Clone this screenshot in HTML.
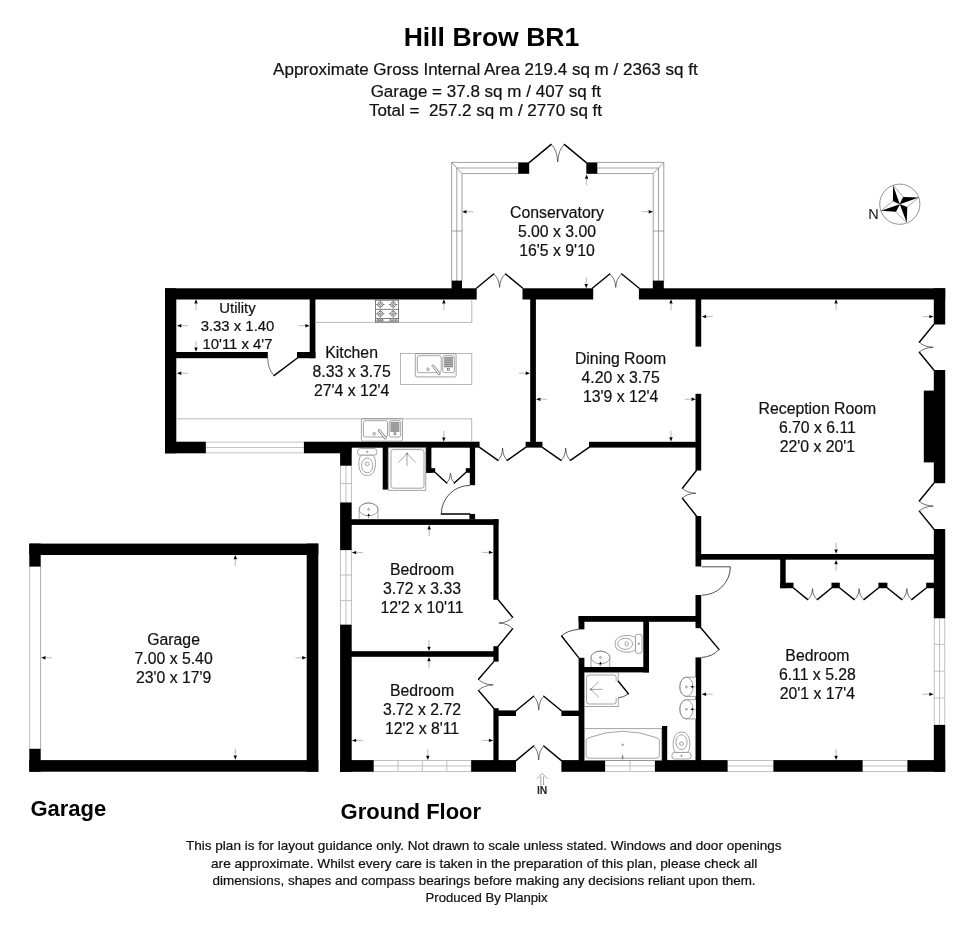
<!DOCTYPE html>
<html><head><meta charset="utf-8"><title>Hill Brow BR1</title>
<style>
html,body{margin:0;padding:0;background:#fff;}
body{width:980px;height:926px;overflow:hidden;font-family:"Liberation Sans",sans-serif;}
svg{display:block;font-family:"Liberation Sans",sans-serif;filter:grayscale(1);}
.w{fill:#000;}
.d{stroke:#000;stroke-width:1.4;fill:none;stroke-linecap:round;}
.a{stroke:#333;stroke-width:.7;fill:none;}
.g{stroke:#868686;stroke-width:.75;fill:none;}
.gf{stroke:#868686;stroke-width:.75;fill:#fff;}
.win{stroke:#a8a8a8;stroke-width:.7;fill:none;}
.winf{stroke:#a8a8a8;stroke-width:.7;fill:#fff;}
.ah{fill:#000;}
.at{stroke:#8a8a8a;stroke-width:.6;}
.ds{stroke:#222;stroke-width:.8;fill:none;}
.gk{stroke:#555;stroke-width:.6;fill:none;}
.gd{stroke:#999;stroke-width:.8;}
.hatch{fill:#bbb;stroke:none;}
.inn{stroke:#999;stroke-width:.9;fill:none;}
.hb{stroke:#3a3a3a;stroke-width:.65;fill:none;}
.cw{stroke:#7a7a7a;stroke-width:.7;fill:none;}
.wt{stroke:#a4a4a4;stroke-width:.8;fill:none;}
.ft{fill:#111;stroke:#111;stroke-width:.22;}
.t{fill:#111;text-anchor:middle;stroke:#111;stroke-width:.2;}
.b{fill:#000;font-weight:bold;}
.f{fill:#111;text-anchor:middle;}
</style></head><body>
<svg width="980" height="926" viewBox="0 0 980 926">
<rect x="0" y="0" width="980" height="926" fill="#fff"/>
<line class="cw" x1="451.60" y1="162.40" x2="518.50" y2="162.40"/>
<line class="cw" x1="597.00" y1="162.40" x2="663.80" y2="162.40"/>
<line class="cw" x1="451.60" y1="162.40" x2="451.60" y2="281.00"/>
<line class="cw" x1="663.80" y1="162.40" x2="663.80" y2="281.00"/>
<line class="cw" x1="456.80" y1="168.00" x2="518.50" y2="168.00"/>
<line class="cw" x1="597.00" y1="168.00" x2="658.50" y2="168.00"/>
<line class="cw" x1="456.80" y1="168.00" x2="456.80" y2="281.00"/>
<line class="cw" x1="658.50" y1="168.00" x2="658.50" y2="281.00"/>
<line class="cw" x1="462.00" y1="173.60" x2="518.50" y2="173.60"/>
<line class="cw" x1="597.00" y1="173.60" x2="653.20" y2="173.60"/>
<line class="cw" x1="462.00" y1="173.60" x2="462.00" y2="281.00"/>
<line class="cw" x1="653.20" y1="173.60" x2="653.20" y2="281.00"/>
<line class="cw" x1="451.60" y1="162.40" x2="462.00" y2="173.60"/>
<line class="cw" x1="663.80" y1="162.40" x2="653.20" y2="173.60"/>
<line class="cw" x1="451.60" y1="231.00" x2="462.00" y2="231.00"/>
<line class="cw" x1="653.20" y1="231.00" x2="663.80" y2="231.00"/>
<rect class="winf" x="205.80" y="442.10" width="98.20" height="10.80"/>
<line class="win" x1="205.80" y1="447.50" x2="304.00" y2="447.50"/>
<rect class="winf" x="340.40" y="465.50" width="11.10" height="37.10"/>
<line class="win" x1="345.95" y1="465.50" x2="345.95" y2="502.60"/>
<line class="win" x1="340.40" y1="483.50" x2="351.50" y2="483.50"/>
<rect class="winf" x="340.40" y="550.00" width="11.10" height="74.80"/>
<line class="win" x1="345.95" y1="550.00" x2="345.95" y2="624.80"/>
<line class="win" x1="340.40" y1="575.00" x2="351.50" y2="575.00"/>
<line class="win" x1="340.40" y1="600.60" x2="351.50" y2="600.60"/>
<rect class="winf" x="373.60" y="760.40" width="97.60" height="11.10"/>
<line class="win" x1="373.60" y1="765.95" x2="471.20" y2="765.95"/>
<line class="win" x1="398.00" y1="760.40" x2="398.00" y2="771.50"/>
<line class="win" x1="422.40" y1="760.40" x2="422.40" y2="771.50"/>
<line class="win" x1="446.80" y1="760.40" x2="446.80" y2="771.50"/>
<rect class="winf" x="605.00" y="760.40" width="50.00" height="11.10"/>
<line class="win" x1="605.00" y1="765.95" x2="655.00" y2="765.95"/>
<line class="win" x1="630.00" y1="760.40" x2="630.00" y2="771.50"/>
<rect class="winf" x="727.50" y="760.40" width="46.00" height="11.10"/>
<line class="win" x1="727.50" y1="765.95" x2="773.50" y2="765.95"/>
<rect class="winf" x="862.50" y="760.40" width="45.00" height="11.10"/>
<line class="win" x1="862.50" y1="765.95" x2="907.50" y2="765.95"/>
<rect class="winf" x="934.20" y="618.00" width="10.60" height="107.00"/>
<line class="win" x1="939.50" y1="618.00" x2="939.50" y2="725.00"/>
<line class="win" x1="934.20" y1="644.40" x2="944.80" y2="644.40"/>
<line class="win" x1="934.20" y1="671.20" x2="944.80" y2="671.20"/>
<line class="win" x1="934.20" y1="698.00" x2="944.80" y2="698.00"/>
<line class="win" x1="29.60" y1="566.00" x2="29.60" y2="749.00"/>
<line class="gd" x1="40.60" y1="566.00" x2="40.60" y2="749.00"/>
<rect class="w" x="165.00" y="288.30" width="311.70" height="11.20"/>
<rect class="w" x="165.00" y="288.30" width="11.30" height="165.00"/>
<rect class="w" x="165.00" y="441.70" width="40.80" height="11.60"/>
<rect class="w" x="304.00" y="441.70" width="47.30" height="11.60"/>
<rect class="w" x="351.00" y="441.70" width="128.60" height="6.00"/>
<rect class="w" x="175.50" y="352.00" width="92.30" height="6.20"/>
<rect class="w" x="309.70" y="298.00" width="5.70" height="60.20"/>
<rect class="w" x="297.00" y="352.00" width="18.40" height="6.20"/>
<rect class="w" x="451.60" y="280.60" width="10.40" height="8.40"/>
<rect class="w" x="652.80" y="280.60" width="11.00" height="8.40"/>
<rect class="w" x="518.20" y="162.40" width="11.00" height="11.40"/>
<rect class="w" x="586.30" y="162.40" width="11.00" height="11.40"/>
<rect class="w" x="522.50" y="288.30" width="70.70" height="11.20"/>
<rect class="w" x="638.90" y="288.30" width="306.30" height="11.20"/>
<rect class="w" x="530.20" y="298.00" width="5.70" height="146.00"/>
<rect class="w" x="525.60" y="441.80" width="16.80" height="5.80"/>
<rect class="w" x="589.00" y="441.80" width="108.00" height="5.80"/>
<rect class="w" x="695.50" y="298.00" width="5.70" height="48.60"/>
<rect class="w" x="695.50" y="393.80" width="5.70" height="76.70"/>
<rect class="w" x="695.50" y="516.00" width="5.70" height="50.50"/>
<rect class="w" x="695.50" y="595.00" width="5.70" height="33.20"/>
<rect class="w" x="695.50" y="657.40" width="5.70" height="103.60"/>
<rect class="w" x="933.80" y="288.30" width="11.40" height="36.20"/>
<rect class="w" x="933.80" y="370.00" width="11.40" height="113.20"/>
<rect class="w" x="933.80" y="529.00" width="11.40" height="89.20"/>
<rect class="w" x="933.80" y="725.00" width="11.40" height="46.80"/>
<rect class="w" x="923.80" y="390.60" width="11.20" height="71.80"/>
<rect class="w" x="701.00" y="554.00" width="233.50" height="5.70"/>
<rect class="w" x="780.20" y="559.00" width="5.50" height="29.20"/>
<rect class="w" x="780.20" y="582.70" width="13.30" height="5.50"/>
<rect class="w" x="831.50" y="582.70" width="8.30" height="5.50"/>
<rect class="w" x="878.40" y="582.70" width="9.00" height="5.50"/>
<rect class="w" x="926.20" y="582.70" width="8.30" height="5.50"/>
<rect class="w" x="340.10" y="760.10" width="33.50" height="11.70"/>
<rect class="w" x="471.20" y="760.10" width="44.80" height="11.70"/>
<rect class="w" x="561.40" y="760.10" width="43.60" height="11.70"/>
<rect class="w" x="655.00" y="760.10" width="72.50" height="11.70"/>
<rect class="w" x="773.50" y="760.10" width="89.00" height="11.70"/>
<rect class="w" x="907.50" y="760.10" width="37.70" height="11.70"/>
<rect class="w" x="340.10" y="442.00" width="11.60" height="23.60"/>
<rect class="w" x="340.10" y="502.60" width="11.60" height="47.40"/>
<rect class="w" x="340.10" y="624.80" width="11.60" height="147.00"/>
<rect class="w" x="382.70" y="447.00" width="5.20" height="42.60"/>
<rect class="w" x="426.00" y="447.00" width="5.40" height="25.80"/>
<rect class="w" x="426.00" y="468.20" width="9.20" height="4.60"/>
<rect class="w" x="469.80" y="447.00" width="5.30" height="38.20"/>
<rect class="w" x="465.80" y="468.20" width="4.20" height="4.60"/>
<rect class="w" x="469.40" y="514.00" width="5.70" height="5.50"/>
<rect class="w" x="351.00" y="519.20" width="147.40" height="5.70"/>
<rect class="w" x="493.40" y="519.20" width="5.20" height="80.60"/>
<rect class="w" x="351.00" y="651.20" width="147.00" height="5.60"/>
<rect class="w" x="493.40" y="646.20" width="5.20" height="15.40"/>
<rect class="w" x="493.40" y="708.20" width="5.20" height="52.80"/>
<rect class="w" x="498.00" y="710.40" width="18.00" height="5.60"/>
<rect class="w" x="561.40" y="710.60" width="17.60" height="5.40"/>
<rect class="w" x="578.60" y="616.00" width="118.40" height="5.80"/>
<rect class="w" x="578.60" y="616.00" width="5.80" height="13.40"/>
<rect class="w" x="578.60" y="657.80" width="5.80" height="103.20"/>
<rect class="w" x="643.30" y="621.00" width="5.70" height="51.40"/>
<rect class="w" x="584.00" y="667.00" width="65.00" height="5.40"/>
<rect class="w" x="662.00" y="726.00" width="5.20" height="35.00"/>
<rect class="w" x="29.30" y="543.60" width="289.00" height="11.40"/>
<rect class="w" x="306.70" y="543.60" width="11.60" height="228.10"/>
<rect class="w" x="29.30" y="760.10" width="289.00" height="11.60"/>
<rect class="w" x="29.30" y="543.60" width="11.40" height="23.00"/>
<rect class="w" x="29.30" y="748.80" width="11.40" height="22.90"/>
<line class="d" x1="529.20" y1="162.60" x2="551.18" y2="144.40"/>
<line class="d" x1="586.30" y1="162.60" x2="564.32" y2="144.40"/>
<path class="a" d="M551.18 144.40Q557.22 149.86 557.75 162.00"/>
<path class="a" d="M564.32 144.40Q558.28 149.86 557.75 162.00"/>
<line class="d" x1="476.70" y1="288.00" x2="493.65" y2="274.00"/>
<line class="d" x1="522.50" y1="288.00" x2="505.55" y2="274.00"/>
<path class="a" d="M493.65 274.00Q499.12 278.20 499.60 287.40"/>
<path class="a" d="M505.55 274.00Q500.08 278.20 499.60 287.40"/>
<line class="d" x1="592.60" y1="288.00" x2="609.73" y2="274.00"/>
<line class="d" x1="638.90" y1="288.00" x2="621.77" y2="274.00"/>
<path class="a" d="M609.73 274.00Q615.27 278.20 615.75 287.40"/>
<path class="a" d="M621.77 274.00Q616.23 278.20 615.75 287.40"/>
<line class="d" x1="479.60" y1="447.40" x2="498.00" y2="460.40"/>
<line class="d" x1="525.60" y1="447.40" x2="507.20" y2="460.40"/>
<path class="a" d="M498.00 460.40Q502.23 456.50 502.60 448.00"/>
<path class="a" d="M507.20 460.40Q502.97 456.50 502.60 448.00"/>
<line class="d" x1="542.40" y1="447.40" x2="561.04" y2="460.40"/>
<line class="d" x1="589.00" y1="447.40" x2="570.36" y2="460.40"/>
<path class="a" d="M561.04 460.40Q565.33 456.50 565.70 448.00"/>
<path class="a" d="M570.36 460.40Q566.07 456.50 565.70 448.00"/>
<line class="d" x1="933.80" y1="324.50" x2="919.30" y2="342.25"/>
<line class="d" x1="933.80" y1="370.00" x2="919.30" y2="352.25"/>
<path class="a" d="M919.30 342.25Q923.65 346.85 933.20 347.25"/>
<path class="a" d="M919.30 352.25Q923.65 347.65 933.20 347.25"/>
<line class="d" x1="933.80" y1="483.20" x2="919.30" y2="501.06"/>
<line class="d" x1="933.80" y1="529.00" x2="919.30" y2="511.14"/>
<path class="a" d="M919.30 501.06Q923.65 505.70 933.20 506.10"/>
<path class="a" d="M919.30 511.14Q923.65 506.50 933.20 506.10"/>
<line class="d" x1="696.40" y1="470.50" x2="682.40" y2="488.25"/>
<line class="d" x1="696.40" y1="516.00" x2="682.40" y2="498.25"/>
<path class="a" d="M682.40 488.25Q686.60 492.85 695.80 493.25"/>
<path class="a" d="M682.40 498.25Q686.60 493.65 695.80 493.25"/>
<line class="d" x1="498.20" y1="599.80" x2="512.60" y2="617.25"/>
<line class="d" x1="498.20" y1="646.20" x2="512.60" y2="628.75"/>
<path class="a" d="M512.60 617.25Q508.28 622.54 498.80 623.00"/>
<path class="a" d="M512.60 628.75Q508.28 623.46 498.80 623.00"/>
<line class="d" x1="493.80" y1="661.60" x2="478.50" y2="679.31"/>
<line class="d" x1="493.80" y1="708.20" x2="478.50" y2="690.49"/>
<path class="a" d="M478.50 679.31Q483.09 684.45 493.20 684.90"/>
<path class="a" d="M478.50 690.49Q483.09 685.35 493.20 684.90"/>
<line class="d" x1="516.00" y1="760.60" x2="533.62" y2="746.00"/>
<line class="d" x1="561.40" y1="760.60" x2="543.78" y2="746.00"/>
<path class="a" d="M533.62 746.00Q538.29 750.38 538.70 760.00"/>
<path class="a" d="M543.78 746.00Q539.11 750.38 538.70 760.00"/>
<line class="d" x1="516.00" y1="710.80" x2="533.62" y2="696.20"/>
<line class="d" x1="561.40" y1="710.80" x2="543.78" y2="696.20"/>
<path class="a" d="M533.62 696.20Q538.29 700.58 538.70 710.20"/>
<path class="a" d="M543.78 696.20Q539.11 700.58 538.70 710.20"/>
<line class="d" x1="435.20" y1="472.60" x2="446.68" y2="483.00"/>
<line class="d" x1="465.80" y1="472.60" x2="454.32" y2="483.00"/>
<path class="a" d="M446.68 483.00Q450.19 479.88 450.50 473.20"/>
<path class="a" d="M454.32 483.00Q450.81 479.88 450.50 473.20"/>
<line class="d" x1="793.50" y1="588.00" x2="807.75" y2="599.60"/>
<line class="d" x1="831.50" y1="588.00" x2="817.25" y2="599.60"/>
<path class="a" d="M807.75 599.60Q812.12 596.12 812.50 588.60"/>
<path class="a" d="M817.25 599.60Q812.88 596.12 812.50 588.60"/>
<line class="d" x1="839.80" y1="588.00" x2="854.27" y2="599.60"/>
<line class="d" x1="878.40" y1="588.00" x2="863.92" y2="599.60"/>
<path class="a" d="M854.27 599.60Q858.71 596.12 859.10 588.60"/>
<path class="a" d="M863.92 599.60Q859.49 596.12 859.10 588.60"/>
<line class="d" x1="887.40" y1="588.00" x2="901.95" y2="599.60"/>
<line class="d" x1="926.20" y1="588.00" x2="911.65" y2="599.60"/>
<path class="a" d="M901.95 599.60Q906.41 596.12 906.80 588.60"/>
<path class="a" d="M911.65 599.60Q907.19 596.12 906.80 588.60"/>
<line class="d" x1="297.40" y1="358.00" x2="274.00" y2="375.60"/>
<path class="a" d="M267.8 358.2Q267.6 368.6 274 375.6"/>
<line class="d" x1="441.30" y1="514.00" x2="469.80" y2="514.00"/>
<path class="ds" d="M441.3 514A28.6 28.6 0 0 1 470 485.4"/>
<line class="ds" x1="701.60" y1="566.80" x2="730.40" y2="566.80"/>
<path class="ds" d="M730.4 566.8A28.6 28.6 0 0 1 701.8 595.2"/>
<line class="d" x1="701.20" y1="628.20" x2="719.00" y2="649.40"/>
<path class="ds" d="M719 649.4Q712.4 656.8 701.4 657.5"/>
<line class="d" x1="578.60" y1="657.60" x2="561.60" y2="636.00"/>
<path class="ds" d="M561.6 636Q567.6 630.2 578.6 629.4"/>
<path class="wt" d="M315.4 322.4H471.8V299"/>
<path class="wt" d="M176.3 418.8H471.7V442"/>
<rect class="wt" x="400.40" y="353.40" width="71.40" height="31.10"/>
<rect class="hb" x="375.50" y="300.20" width="22.90" height="21.80"/>
<line class="hb" x1="375.50" y1="309.36" x2="398.40" y2="309.36"/>
<line class="hb" x1="375.50" y1="318.51" x2="398.40" y2="318.51"/>
<circle class="hb" cx="380.31" cy="304.56" r="2.5"/>
<circle class="hb" cx="380.31" cy="304.56" r="1"/>
<path class="hb" d="M376.11 304.56h1.7M382.81 304.56h1.7M380.31 300.66v1.4M380.31 307.06v1.4"/>
<circle class="hb" cx="380.31" cy="313.72" r="2.5"/>
<circle class="hb" cx="380.31" cy="313.72" r="1"/>
<path class="hb" d="M376.11 313.72h1.7M382.81 313.72h1.7M380.31 309.82v1.4M380.31 316.22v1.4"/>
<circle class="hb" cx="393.13" cy="304.56" r="2.5"/>
<circle class="hb" cx="393.13" cy="304.56" r="1"/>
<path class="hb" d="M388.93 304.56h1.7M395.63 304.56h1.7M393.13 300.66v1.4M393.13 307.06v1.4"/>
<circle class="hb" cx="393.13" cy="313.72" r="2.5"/>
<circle class="hb" cx="393.13" cy="313.72" r="1"/>
<path class="hb" d="M388.93 313.72h1.7M395.63 313.72h1.7M393.13 309.82v1.4M393.13 316.22v1.4"/>
<circle class="hb" cx="377.79" cy="320.37" r="0.9"/>
<circle class="hb" cx="380.08" cy="320.37" r="0.9"/>
<circle class="hb" cx="382.37" cy="320.37" r="0.9"/>
<circle class="hb" cx="390.61" cy="320.37" r="0.9"/>
<circle class="hb" cx="393.36" cy="320.37" r="0.9"/>
<circle class="hb" cx="396.11" cy="320.37" r="0.9"/>
<rect class="g" x="415.30" y="353.70" width="40.80" height="23.20" rx="1.6"/>
<rect class="g" x="417.30" y="355.70" width="23.91" height="17.00" rx="2"/>
<rect class="g" x="442.84" y="355.70" width="11.46" height="17.00" rx="2"/>
<rect class="hatch" x="444.14" y="356.90" width="8.86" height="10.54"/>
<line class="gk" x1="444.14" y1="357.95" x2="453.00" y2="357.95"/>
<line class="gk" x1="444.14" y1="360.06" x2="453.00" y2="360.06"/>
<line class="gk" x1="444.14" y1="362.17" x2="453.00" y2="362.17"/>
<line class="gk" x1="444.14" y1="364.28" x2="453.00" y2="364.28"/>
<line class="gk" x1="444.14" y1="366.39" x2="453.00" y2="366.39"/>
<rect class="gk" x="447.67" y="368.28" width="1.8" height="2"/>
<circle class="gk" cx="427.95" cy="369.24" r="1.3"/>
<line x1="432.84" y1="365.76" x2="439.17" y2="373.65" stroke="#777" stroke-width="2.6" stroke-linecap="round"/>
<line x1="432.84" y1="365.76" x2="439.17" y2="373.65" stroke="#fff" stroke-width="1.2" stroke-linecap="round"/>
<rect class="g" x="361.40" y="418.70" width="41.10" height="22.50" rx="1.6"/>
<rect class="g" x="363.40" y="420.70" width="24.10" height="16.30" rx="2"/>
<rect class="g" x="389.14" y="420.70" width="11.56" height="16.30" rx="2"/>
<rect class="hatch" x="390.44" y="421.90" width="8.96" height="10.11"/>
<line class="gk" x1="390.44" y1="422.91" x2="399.40" y2="422.91"/>
<line class="gk" x1="390.44" y1="424.93" x2="399.40" y2="424.93"/>
<line class="gk" x1="390.44" y1="426.95" x2="399.40" y2="426.95"/>
<line class="gk" x1="390.44" y1="428.97" x2="399.40" y2="428.97"/>
<line class="gk" x1="390.44" y1="431.00" x2="399.40" y2="431.00"/>
<rect class="gk" x="394.02" y="432.76" width="1.8" height="2"/>
<circle class="gk" cx="374.14" cy="433.77" r="1.3"/>
<line x1="379.07" y1="430.40" x2="385.44" y2="438.05" stroke="#777" stroke-width="2.6" stroke-linecap="round"/>
<line x1="379.07" y1="430.40" x2="385.44" y2="438.05" stroke="#fff" stroke-width="1.2" stroke-linecap="round"/>
<g transform="translate(367.20 465.20) rotate(0)">
<rect class="gf" x="-9.6" y="-16.6" width="19.2" height="6.6" rx="2.6"/>
<circle class="gk" cx="0" cy="-13.4" r="0.7"/>
<path class="gf" d="M-6.2 -10C-9.4 -6 -9 5 -5 8.6C-2.6 10.8 2.6 10.8 5 8.6C9 5 9.4 -6 6.2 -10Z"/>
<ellipse class="g" cx="0" cy="0.2" rx="5.6" ry="7.4"/>
<ellipse class="g" cx="0" cy="-1.3" rx="2.1" ry="1.6"/>
</g>
<g transform="translate(625.40 643.80) rotate(90)">
<rect class="gf" x="-9.6" y="-16.6" width="19.2" height="6.6" rx="2.6"/>
<circle class="gk" cx="0" cy="-13.4" r="0.7"/>
<path class="gf" d="M-6.2 -10C-9.4 -6 -9 5 -5 8.6C-2.6 10.8 2.6 10.8 5 8.6C9 5 9.4 -6 6.2 -10Z"/>
<ellipse class="g" cx="0" cy="0.2" rx="5.6" ry="7.4"/>
<ellipse class="g" cx="0" cy="-1.3" rx="2.1" ry="1.6"/>
</g>
<g transform="translate(681.50 742.40) rotate(180)">
<rect class="gf" x="-9.6" y="-16.6" width="19.2" height="6.6" rx="2.6"/>
<circle class="gk" cx="0" cy="-13.4" r="0.7"/>
<path class="gf" d="M-6.2 -10C-9.4 -6 -9 5 -5 8.6C-2.6 10.8 2.6 10.8 5 8.6C9 5 9.4 -6 6.2 -10Z"/>
<ellipse class="g" cx="0" cy="0.2" rx="5.6" ry="7.4"/>
<ellipse class="g" cx="0" cy="-1.3" rx="2.1" ry="1.6"/>
</g>
<g transform="translate(368.60 518.90) rotate(0)">
<path class="gf" d="M-9.4 0V-9.5A9.4 6.4 0 0 1 9.4 -9.5V0"/>
<ellipse class="g" cx="0" cy="-9.5" rx="9.4" ry="6.4"/>
<circle class="gk" cx="0" cy="-9.5" r="0.9"/>
<path class="ah" d="M0 -5.4l-1.3 2.6h2.6z"/>
<path class="gk" d="M0 -3V-0.6"/>
</g>
<g transform="translate(600.40 667.00) rotate(0)">
<path class="gf" d="M-9.4 0V-9.5A9.4 6.4 0 0 1 9.4 -9.5V0"/>
<ellipse class="g" cx="0" cy="-9.5" rx="9.4" ry="6.4"/>
<circle class="gk" cx="0" cy="-9.5" r="0.9"/>
<path class="ah" d="M0 -5.4l-1.3 2.6h2.6z"/>
<path class="gk" d="M0 -3V-0.6"/>
</g>
<g transform="translate(695.80 686.80) rotate(-90)">
<path class="gf" d="M-9.6 0V-9.4A9.6 6.6 0 0 1 9.6 -9.4V0"/>
<ellipse class="g" cx="0" cy="-9.4" rx="9.6" ry="6.6"/>
<circle class="gk" cx="0" cy="-9.4" r="0.9"/>
<path class="ah" d="M0 -5.4l-1.3 2.6h2.6z"/>
<path class="gk" d="M0 -3V-0.6"/>
</g>
<g transform="translate(695.80 709.30) rotate(-90)">
<path class="gf" d="M-9.6 0V-9.4A9.6 6.6 0 0 1 9.6 -9.4V0"/>
<ellipse class="g" cx="0" cy="-9.4" rx="9.6" ry="6.6"/>
<circle class="gk" cx="0" cy="-9.4" r="0.9"/>
<path class="ah" d="M0 -5.4l-1.3 2.6h2.6z"/>
<path class="gk" d="M0 -3V-0.6"/>
</g>
<rect class="g" x="388.70" y="447.80" width="37.10" height="42.50"/>
<rect class="g" x="391" y="449.6" width="33" height="38.6" rx="2.4"/>
<path class="g" d="M398.4 462.6L407 453.6L415.8 462.6M407 453.6V466"/>
<circle class="gk" cx="407" cy="453.6" r="0.7"/>
<path class="g" d="M584.4 672.6H618.3V681.3M618.3 697.8V706.5H584.4"/>
<path class="g" d="M616.2 681.3V677.4Q616.2 675 613.8 675H589Q586.6 675 586.6 677.4V701.6Q586.6 704 589 704H613.8Q616.2 704 616.2 701.6V698"/>
<line class="d" x1="618.30" y1="681.30" x2="628.40" y2="693.70"/>
<path class="ds" d="M628.4 693.7Q624 697.4 618.3 697.8"/>
<path class="g" d="M598.8 681.6L590.8 689.4L598.8 697.2M590.8 689.4H602.6"/>
<circle class="gk" cx="590.8" cy="689.4" r="0.7"/>
<rect class="g" x="584.40" y="728.70" width="77.40" height="31.70"/>
<path class="g" d="M586.2 740.6Q586.2 738.4 588.6 737.8Q622.6 724.8 657 737.8Q659.4 738.4 659.4 740.6V755.6Q659.4 758.2 656.8 758.2H588.8Q586.2 758.2 586.2 755.6Z"/>
<circle class="gk" cx="622.6" cy="744.8" r="0.8"/>
<path class="gk" d="M622.6 759.6V754.6M621.4 757H623.8"/>
<circle cx="899.8" cy="204.2" r="20.1" fill="none" stroke="#777" stroke-width=".8"/>
<path d="M893.1 185.2L892.9 201.0L899.8 204.2Z" fill="#000"/>
<path d="M893.1 185.2L903.3 197.0L899.8 204.2" fill="none" stroke="#555" stroke-width=".5"/>
<path d="M918.8 197.4L903.3 197.0L899.8 204.2Z" fill="#000"/>
<path d="M918.8 197.4L907.3 207.2L899.8 204.2" fill="none" stroke="#555" stroke-width=".5"/>
<path d="M906.7 222.8L907.3 207.2L899.8 204.2Z" fill="#000"/>
<path d="M906.7 222.8L895.9 211.7L899.8 204.2" fill="none" stroke="#555" stroke-width=".5"/>
<path d="M881.1 210.7L895.9 211.7L899.8 204.2Z" fill="#000"/>
<path d="M881.1 210.7L892.9 201.0L899.8 204.2" fill="none" stroke="#555" stroke-width=".5"/>
<text x="873.6" y="218.8" font-size="14.5" fill="#111" text-anchor="middle">N</text>
<path class="inn" d="M536.8 778.8L542.2 773.4L547.6 778.8"/>
<path class="inn" d="M540.8 776.4V785M543.6 776.4V785"/>
<text x="542.2" y="793.8" font-size="10.4" font-weight="bold" fill="#222" text-anchor="middle">IN</text>
<path class="ah" d="M586.60 174.40l-1.7 4.3h3.4z"/>
<line class="at" x1="586.60" y1="178.70" x2="586.60" y2="185.40"/>
<path class="ah" d="M586.20 288.20l-1.7 -4.3h3.4z"/>
<line class="at" x1="586.20" y1="283.90" x2="586.20" y2="277.20"/>
<path class="ah" d="M462.20 211.70l4.3 -1.7v3.4z"/>
<line class="at" x1="466.50" y1="211.70" x2="473.20" y2="211.70"/>
<path class="ah" d="M653.00 211.70l-4.3 -1.7v3.4z"/>
<line class="at" x1="648.70" y1="211.70" x2="642.00" y2="211.70"/>
<path class="ah" d="M443.90 299.20l-1.7 4.3h3.4z"/>
<line class="at" x1="443.90" y1="303.50" x2="443.90" y2="310.20"/>
<path class="ah" d="M443.80 441.80l-1.7 -4.3h3.4z"/>
<line class="at" x1="443.80" y1="437.50" x2="443.80" y2="430.80"/>
<path class="ah" d="M177.00 373.20l4.3 -1.7v3.4z"/>
<line class="at" x1="181.30" y1="373.20" x2="188.00" y2="373.20"/>
<path class="ah" d="M530.00 373.20l-4.3 -1.7v3.4z"/>
<line class="at" x1="525.70" y1="373.20" x2="519.00" y2="373.20"/>
<path class="ah" d="M196.00 299.20l-1.7 4.3h3.4z"/>
<line class="at" x1="196.00" y1="303.50" x2="196.00" y2="310.20"/>
<path class="ah" d="M196.00 351.80l-1.7 -4.3h3.4z"/>
<line class="at" x1="196.00" y1="347.50" x2="196.00" y2="340.80"/>
<path class="ah" d="M177.00 325.70l4.3 -1.7v3.4z"/>
<line class="at" x1="181.30" y1="325.70" x2="188.00" y2="325.70"/>
<path class="ah" d="M309.60 325.70l-4.3 -1.7v3.4z"/>
<line class="at" x1="305.30" y1="325.70" x2="298.60" y2="325.70"/>
<path class="ah" d="M671.00 299.20l-1.7 4.3h3.4z"/>
<line class="at" x1="671.00" y1="303.50" x2="671.00" y2="310.20"/>
<path class="ah" d="M671.00 441.60l-1.7 -4.3h3.4z"/>
<line class="at" x1="671.00" y1="437.30" x2="671.00" y2="430.60"/>
<path class="ah" d="M536.10 399.20l4.3 -1.7v3.4z"/>
<line class="at" x1="540.40" y1="399.20" x2="547.10" y2="399.20"/>
<path class="ah" d="M695.80 399.20l-4.3 -1.7v3.4z"/>
<line class="at" x1="691.50" y1="399.20" x2="684.80" y2="399.20"/>
<path class="ah" d="M836.10 299.20l-1.7 4.3h3.4z"/>
<line class="at" x1="836.10" y1="303.50" x2="836.10" y2="310.20"/>
<path class="ah" d="M836.10 553.80l-1.7 -4.3h3.4z"/>
<line class="at" x1="836.10" y1="549.50" x2="836.10" y2="542.80"/>
<path class="ah" d="M701.80 316.60l4.3 -1.7v3.4z"/>
<line class="at" x1="706.10" y1="316.60" x2="712.80" y2="316.60"/>
<path class="ah" d="M933.60 316.60l-4.3 -1.7v3.4z"/>
<line class="at" x1="929.30" y1="316.60" x2="922.60" y2="316.60"/>
<path class="ah" d="M836.10 559.90l-1.7 4.3h3.4z"/>
<line class="at" x1="836.10" y1="564.20" x2="836.10" y2="570.90"/>
<path class="ah" d="M836.10 760.00l-1.7 -4.3h3.4z"/>
<line class="at" x1="836.10" y1="755.70" x2="836.10" y2="749.00"/>
<path class="ah" d="M701.80 694.20l4.3 -1.7v3.4z"/>
<line class="at" x1="706.10" y1="694.20" x2="712.80" y2="694.20"/>
<path class="ah" d="M933.60 694.20l-4.3 -1.7v3.4z"/>
<line class="at" x1="929.30" y1="694.20" x2="922.60" y2="694.20"/>
<path class="ah" d="M429.20 525.10l-1.7 4.3h3.4z"/>
<line class="at" x1="429.20" y1="529.40" x2="429.20" y2="536.10"/>
<path class="ah" d="M429.00 651.00l-1.7 -4.3h3.4z"/>
<line class="at" x1="429.00" y1="646.70" x2="429.00" y2="640.00"/>
<path class="ah" d="M351.90 552.60l4.3 -1.7v3.4z"/>
<line class="at" x1="356.20" y1="552.60" x2="362.90" y2="552.60"/>
<path class="ah" d="M493.20 552.40l-4.3 -1.7v3.4z"/>
<line class="at" x1="488.90" y1="552.40" x2="482.20" y2="552.40"/>
<path class="ah" d="M429.00 657.00l-1.7 4.3h3.4z"/>
<line class="at" x1="429.00" y1="661.30" x2="429.00" y2="668.00"/>
<path class="ah" d="M427.80 760.00l-1.7 -4.3h3.4z"/>
<line class="at" x1="427.80" y1="755.70" x2="427.80" y2="749.00"/>
<path class="ah" d="M351.90 740.40l4.3 -1.7v3.4z"/>
<line class="at" x1="356.20" y1="740.40" x2="362.90" y2="740.40"/>
<path class="ah" d="M493.20 740.40l-4.3 -1.7v3.4z"/>
<line class="at" x1="488.90" y1="740.40" x2="482.20" y2="740.40"/>
<path class="ah" d="M235.30 555.00l-1.7 4.3h3.4z"/>
<line class="at" x1="235.30" y1="559.30" x2="235.30" y2="566.00"/>
<path class="ah" d="M235.30 759.80l-1.7 -4.3h3.4z"/>
<line class="at" x1="235.30" y1="755.50" x2="235.30" y2="748.80"/>
<path class="ah" d="M41.20 657.80l4.3 -1.7v3.4z"/>
<line class="at" x1="45.50" y1="657.80" x2="52.20" y2="657.80"/>
<path class="ah" d="M306.50 657.80l-4.3 -1.7v3.4z"/>
<line class="at" x1="302.20" y1="657.80" x2="295.50" y2="657.80"/>
<text class="t" x="557.00" y="217.76" font-size="15.8">Conservatory</text>
<text class="t" x="557.00" y="236.86" font-size="15.8">5.00 x 3.00</text>
<text class="t" x="557.00" y="255.96" font-size="15.8">16'5 x 9'10</text>
<text class="t" x="237.50" y="312.93" font-size="14.9">Utility</text>
<text class="t" x="237.50" y="330.73" font-size="14.9">3.33 x 1.40</text>
<text class="t" x="237.50" y="348.53" font-size="14.9">10'11 x 4'7</text>
<text class="t" x="351.60" y="358.26" font-size="15.8">Kitchen</text>
<text class="t" x="351.60" y="377.21" font-size="15.8">8.33 x 3.75</text>
<text class="t" x="351.60" y="396.16" font-size="15.8">27'4 x 12'4</text>
<text class="t" x="620.60" y="364.26" font-size="15.8">Dining Room</text>
<text class="t" x="620.60" y="383.21" font-size="15.8">4.20 x 3.75</text>
<text class="t" x="620.60" y="402.16" font-size="15.8">13'9 x 12'4</text>
<text class="t" x="817.40" y="413.66" font-size="15.8">Reception Room</text>
<text class="t" x="817.40" y="432.61" font-size="15.8">6.70 x 6.11</text>
<text class="t" x="817.40" y="451.56" font-size="15.8">22'0 x 20'1</text>
<text class="t" x="817.40" y="660.66" font-size="15.8">Bedroom</text>
<text class="t" x="817.40" y="679.61" font-size="15.8">6.11 x 5.28</text>
<text class="t" x="817.40" y="698.56" font-size="15.8">20'1 x 17'4</text>
<text class="t" x="422.00" y="574.86" font-size="15.8">Bedroom</text>
<text class="t" x="422.00" y="593.81" font-size="15.8">3.72 x 3.33</text>
<text class="t" x="422.00" y="612.76" font-size="15.8">12'2 x 10'11</text>
<text class="t" x="422.00" y="695.66" font-size="15.8">Bedroom</text>
<text class="t" x="422.00" y="714.61" font-size="15.8">3.72 x 2.72</text>
<text class="t" x="422.00" y="733.56" font-size="15.8">12'2 x 8'11</text>
<text class="t" x="173.60" y="644.66" font-size="15.8">Garage</text>
<text class="t" x="173.60" y="663.61" font-size="15.8">7.00 x 5.40</text>
<text class="t" x="173.60" y="682.56" font-size="15.8">23'0 x 17'9</text>
<text class="b" x="491.5" y="46.1" font-size="25.7" text-anchor="middle" textLength="175.6" lengthAdjust="spacingAndGlyphs">Hill Brow BR1</text>
<text class="t" x="485.4" y="75.4" font-size="16.3" textLength="424.6" lengthAdjust="spacingAndGlyphs">Approximate Gross Internal Area 219.4 sq m / 2363 sq ft</text>
<text class="t" x="485.8" y="96.8" font-size="16.3" textLength="230.3" lengthAdjust="spacingAndGlyphs">Garage = 37.8 sq m / 407 sq ft</text>
<text class="t" x="485.5" y="116.4" font-size="16.3" xml:space="preserve" textLength="233.2" lengthAdjust="spacingAndGlyphs">Total =  257.2 sq m / 2770 sq ft</text>
<text class="b" x="30.4" y="816.4" font-size="22">Garage</text>
<text class="b" x="340.6" y="819.4" font-size="22">Ground Floor</text>
<text class="ft" x="186.00" y="850.40" font-size="13.4" textLength="595.60" lengthAdjust="spacingAndGlyphs">This plan is for layout guidance only. Not drawn to scale unless stated. Windows and door openings</text>
<text class="ft" x="211.00" y="867.60" font-size="13.4" textLength="546.40" lengthAdjust="spacingAndGlyphs">are approximate. Whilst every care is taken in the preparation of this plan, please check all</text>
<text class="ft" x="212.50" y="884.80" font-size="13.4" textLength="543.10" lengthAdjust="spacingAndGlyphs">dimensions, shapes and compass bearings before making any decisions reliant upon them.</text>
<text class="ft" x="425.50" y="901.80" font-size="13.4" textLength="122.10" lengthAdjust="spacingAndGlyphs">Produced By Planpix</text>
</svg>
</body></html>
